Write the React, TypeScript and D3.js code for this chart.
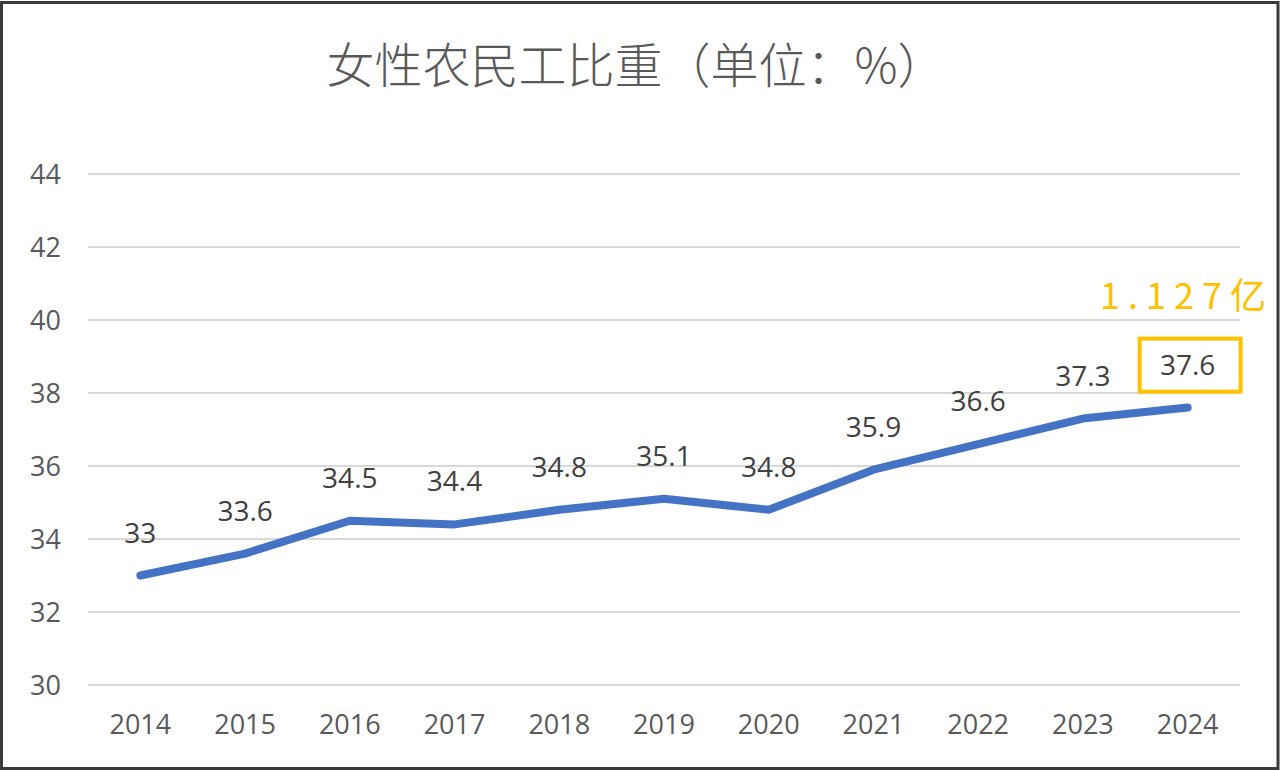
import React from "react";
import * as d3 from "d3";

const years = ["2014", "2015", "2016", "2017", "2018", "2019", "2020", "2021", "2022", "2023", "2024"];
const shares = [33, 33.6, 34.5, 34.4, 34.8, 35.1, 34.8, 35.9, 36.6, 37.3, 37.6];
const yTicks = [30, 32, 34, 36, 38, 40, 42, 44];
const title = "女性农民工比重（单位：%）";
const annotation = "1.127亿";
const highlightYear = "2024";

const W = 1280;
const H = 770;
const m = { left: 88, right: 40, top: 174, bottom: 85 };

export default function App() {
  const x = d3.scalePoint<string>().domain(years).range([m.left, W - m.right]).padding(0.5);
  const y = d3.scaleLinear().domain([30, 44]).range([H - m.bottom, m.top]);
  const line = d3
    .line<number>()
    .x((_, i) => x(years[i]) as number)
    .y((d) => y(d));
  const font = "'Open Sans', 'Noto Sans', sans-serif";
  const hi = years.indexOf(highlightYear);
  const hx = x(highlightYear) as number;
  const hy = y(shares[hi]);
  return (
    <svg
      width={W}
      height={H}
      style={{ position: "absolute", left: 0, top: 0, display: "block" }}
    >
      <rect x={0} y={0} width={W} height={H} fill="#fff" />
      <rect x={1.5} y={2.5} width={W - 3.5} height={H - 4} fill="none" stroke="#3a3a3a" strokeWidth={3} />
      <text
        x={636}
        y={83}
        textAnchor="middle"
        fontSize={48}
        fill="#595959"
        fontWeight={300}
        style={{ fontFamily: "'Noto Sans CJK SC', sans-serif" }}
      >
        {title}
      </text>
      {yTicks.map((t) => (
        <g key={t}>
          <line x1={m.left} x2={W - m.right} y1={y(t)} y2={y(t)} stroke="#d9d9d9" strokeWidth={2} />
          <text x={61} y={y(t) + 10} textAnchor="end" fontSize={27} fill="#595959" style={{ fontFamily: font }}>
            {t}
          </text>
        </g>
      ))}
      {years.map((yr) => (
        <text
          key={yr}
          x={x(yr) as number}
          y={734}
          textAnchor="middle"
          fontSize={27}
          fill="#595959"
          style={{ fontFamily: font }}
        >
          {yr}
        </text>
      ))}
      <path
        d={line(shares) || ""}
        fill="none"
        stroke="#4472C4"
        strokeWidth={8}
        strokeLinecap="round"
        strokeLinejoin="round"
      />
      {shares.map((v, i) => (
        <text
          key={i}
          x={x(years[i]) as number}
          y={y(v) - 33}
          textAnchor="middle"
          fontSize={28}
          fill="#404040"
          style={{ fontFamily: font }}
        >
          {v}
        </text>
      ))}
      <rect x={hx - 48} y={hy - 69} width={101} height={53} fill="none" stroke="#FFC000" strokeWidth={4} />
      <text
        x={1100}
        y={309}
        textAnchor="start"
        fontSize={36}
        fill="#FFC000"
        letterSpacing={8}
        style={{ fontFamily: "'Noto Sans CJK SC', sans-serif" }}
      >
        {annotation}
      </text>
    </svg>
  );
}
